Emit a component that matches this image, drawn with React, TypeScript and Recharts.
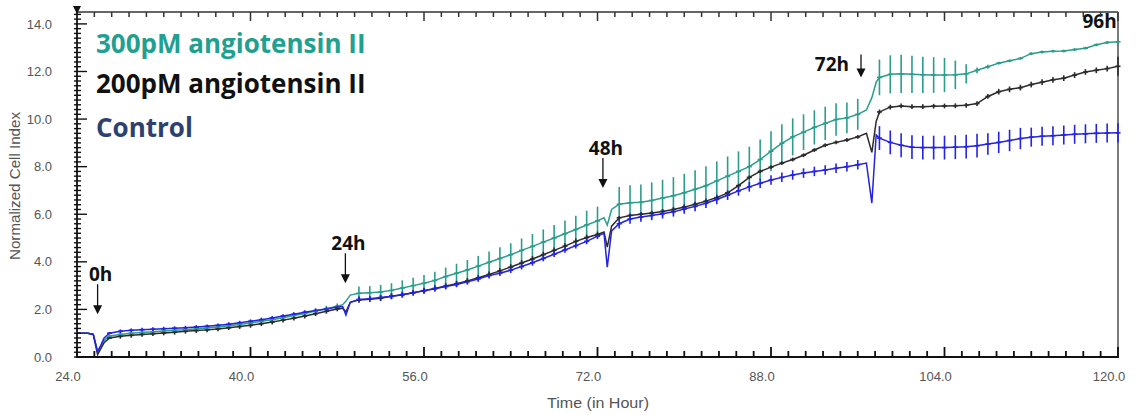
import React from "react"
import { LineChart, Line, XAxis, YAxis, ErrorBar, ReferenceDot, ReferenceLine } from "recharts"

// time in hours (xCELLigence run time), hourly readings plus the treatment dips
const TIME = [
    24, 25, 25.5, 25.9, 26.5, 27, 28, 29, 30, 31, 32, 33, 34, 35, 36, 37, 38, 39, 40, 41, 42, 43, 44, 45, 46, 47, 48,
    48.5, 48.8, 49.2, 50, 51, 52, 53, 54, 55, 56, 57, 58, 59, 60, 61, 62, 63, 64, 65, 66, 67, 68, 69, 70, 71, 72,
    72.6, 72.9, 73.3, 74, 75, 76, 77, 78, 79, 80, 81, 82, 83, 84, 85, 86, 87, 88, 89, 90, 91, 92, 93, 94, 95, 96,
    96.8, 97.3, 97.7, 98, 99, 100, 101, 102, 103, 104, 105, 106, 107, 108, 109, 110, 111, 112, 113, 114, 115, 116, 117, 118, 119, 120,
]

const CONTROL = [
    1.0, 1.0, 0.95, 0.2, 0.8, 1.0, 1.08, 1.12, 1.15, 1.17, 1.19, 1.21, 1.23, 1.26, 1.29, 1.33, 1.38, 1.44, 1.5, 1.57, 1.64, 1.72, 1.8, 1.88, 1.95, 2.02, 2.1,
    2.12, 1.76, 2.3, 2.42, 2.45, 2.5, 2.55, 2.62, 2.7, 2.78, 2.87, 2.96, 3.05, 3.16, 3.28, 3.42, 3.52, 3.65, 3.8, 3.96, 4.14, 4.32, 4.5, 4.68, 4.86, 5.08,
    5.2, 3.78, 5.3, 5.6, 5.8, 5.88, 5.95, 6.02, 6.1, 6.22, 6.33, 6.46, 6.62, 6.8, 6.98, 7.15, 7.3, 7.44, 7.55, 7.65, 7.73, 7.8, 7.86, 7.93, 8.0, 8.08,
    8.15, 6.47, 9.33, 9.2, 9.02, 8.9, 8.82, 8.8, 8.8, 8.8, 8.82, 8.84, 8.88, 8.95, 9.02, 9.1, 9.18, 9.24, 9.28, 9.3, 9.33, 9.36, 9.38, 9.4, 9.41, 9.42,
]
const CONTROL_ERR = [
    0, 0, 0, 0, 0, 0.05, 0.08, 0.08, 0.08, 0.08, 0.08, 0.08, 0.08, 0.08, 0.08, 0.08, 0.08, 0.08, 0.08, 0.08, 0.08, 0.08, 0.08, 0.08, 0.08, 0.08, 0.08,
    0, 0, 0, 0.12, 0.12, 0.12, 0.12, 0.12, 0.12, 0.12, 0.12, 0.12, 0.12, 0.12, 0.12, 0.12, 0.12, 0.12, 0.12, 0.12, 0.12, 0.12, 0.12, 0.12, 0.12, 0.12,
    0, 0, 0, 0.2, 0.2, 0.2, 0.2, 0.2, 0.2, 0.2, 0.2, 0.2, 0.2, 0.2, 0.2, 0.2, 0.2, 0.2, 0.2, 0.2, 0.2, 0.2, 0.2, 0.2, 0.2, 0.2,
    0, 0, 0, 0.5, 0.5, 0.5, 0.5, 0.5, 0.5, 0.5, 0.5, 0.5, 0.5, 0.45, 0.45, 0.45, 0.45, 0.4, 0.4, 0.4, 0.4, 0.4, 0.4, 0.4, 0.4, 0.4,
]

const ANG200 = [
    1.0, 1.0, 0.95, 0.1, 0.6, 0.8, 0.87, 0.91, 0.95, 0.98, 1.01, 1.04, 1.08, 1.11, 1.14, 1.18, 1.23, 1.28, 1.33, 1.4, 1.47, 1.55, 1.63, 1.72, 1.82, 1.92, 2.02,
    2.05, 1.9, 2.3, 2.4, 2.43, 2.47, 2.55, 2.62, 2.7, 2.79, 2.88, 2.98, 3.08, 3.2, 3.33, 3.47, 3.62, 3.78, 3.95, 4.12, 4.3, 4.48, 4.66, 4.86, 5.02, 5.15,
    5.25, 4.62, 5.5, 5.85, 5.95, 6.0, 6.05, 6.12, 6.2, 6.3, 6.42, 6.55, 6.7, 6.9, 7.2, 7.55, 7.8, 7.98, 8.15, 8.3, 8.48, 8.7, 8.9, 9.02, 9.12, 9.25,
    9.4, 8.6, 9.9, 10.3, 10.5, 10.55, 10.52, 10.52, 10.54, 10.55, 10.56, 10.58, 10.65, 10.95, 11.15, 11.25, 11.32, 11.45, 11.55, 11.65, 11.72, 11.85, 11.98, 12.05, 12.12, 12.22,
]
const ANG200_ERR = [
    0, 0, 0, 0, 0, 0.05, 0.1, 0.1, 0.1, 0.1, 0.1, 0.1, 0.1, 0.1, 0.1, 0.1, 0.1, 0.1, 0.1, 0.1, 0.1, 0.1, 0.1, 0.1, 0.1, 0.1, 0.1,
    0, 0, 0, 0.12, 0.12, 0.12, 0.12, 0.12, 0.12, 0.12, 0.12, 0.12, 0.12, 0.12, 0.12, 0.12, 0.12, 0.12, 0.12, 0.12, 0.12, 0.12, 0.12, 0.12, 0.12, 0.12,
    0, 0, 0, 0.08, 0.08, 0.08, 0.08, 0.08, 0.08, 0.08, 0.08, 0.08, 0.08, 0.08, 0.08, 0.08, 0.08, 0.08, 0.08, 0.08, 0.08, 0.08, 0.08, 0.08, 0.08, 0.08,
    0, 0, 0, 0.1, 0.1, 0.1, 0.1, 0.1, 0.1, 0.1, 0.1, 0.1, 0.1, 0.1, 0.12, 0.12, 0.12, 0.12, 0.12, 0.12, 0.12, 0.12, 0.12, 0.12, 0.12, 0.4,
]

const ANG300 = [
    1.0, 1.0, 0.95, 0.25, 0.7, 0.88, 0.95, 1.0, 1.03, 1.06, 1.09, 1.12, 1.15, 1.19, 1.22, 1.26, 1.31, 1.37, 1.43, 1.5, 1.57, 1.65, 1.74, 1.83, 1.93, 2.03, 2.13,
    2.2, 2.35, 2.6, 2.68, 2.7, 2.73, 2.8, 2.9, 3.0, 3.1, 3.22, 3.38, 3.52, 3.66, 3.82, 3.98, 4.14, 4.3, 4.48, 4.65, 4.83, 5.0, 5.18, 5.36, 5.55, 5.72,
    5.85, 5.55, 6.2, 6.42, 6.48, 6.5, 6.58, 6.68, 6.78, 6.9, 7.05, 7.2, 7.4, 7.6, 7.8, 8.0, 8.3, 8.65, 8.98, 9.25, 9.45, 9.65, 9.82, 9.98, 10.05, 10.2,
    10.38, 10.9, 11.55, 11.75, 11.88, 11.9, 11.88, 11.86, 11.85, 11.85, 11.86, 11.9, 12.05, 12.2, 12.35, 12.45, 12.55, 12.75, 12.82, 12.85, 12.86, 12.92, 12.98, 13.12, 13.22, 13.25,
]
const ANG300_ERR = [
    0, 0, 0, 0, 0, 0.05, 0.08, 0.08, 0.08, 0.08, 0.08, 0.08, 0.08, 0.08, 0.08, 0.08, 0.08, 0.08, 0.08, 0.12, 0.12, 0.12, 0.12, 0.12, 0.12, 0.12, 0.12,
    0, 0, 0, 0.28, 0.28, 0.3, 0.3, 0.32, 0.33, 0.35, 0.36, 0.38, 0.4, 0.42, 0.43, 0.45, 0.47, 0.48, 0.5, 0.52, 0.53, 0.55, 0.56, 0.58, 0.6, 0.6,
    0, 0, 0, 0.72, 0.74, 0.75, 0.76, 0.77, 0.78, 0.8, 0.8, 0.82, 0.82, 0.83, 0.84, 0.84, 0.84, 0.84, 0.8, 0.78, 0.75, 0.72, 0.7, 0.68, 0.65, 0.65,
    0, 0, 0, 0.75, 0.8, 0.8, 0.78, 0.76, 0.75, 0.72, 0.6, 0.4, 0.12, 0.08, 0.06, 0.06, 0.06, 0.06, 0.06, 0.06, 0.06, 0.06, 0.06, 0.06, 0.06, 0.06,
]

const X_TICKS = [24, 40, 56, 72, 88, 104, 120]
const Y_TICKS = [0, 2, 4, 6, 8, 10, 12, 14]

// treatment marks: label, time, cell index at arrow tip
const MARK_LABELS = ["0h", "24h", "48h", "72h", "96h"]
const MARK_TIME = [25.9, 48.75, 72.5, 96.3, 118.3]
const MARK_VALUE = [1.8, 3.1, 7.1, 11.75, 14.1]

// minor ticks: 10 per major step
const X_MINOR = Array.from({ length: 61 }, (_, i) => Math.round((24 + i * 1.6) * 10) / 10)
const Y_MINOR = Array.from({ length: 73 }, (_, i) => Math.round(i * 2) / 10)

const X_MIN = 24
const X_MAX = 120
const Y_MAX = 14.5

// chart box (margins + axis sizes below) -> plot area, used for the tick comb only
const W = 1138
const H = 415
const MARGIN = { top: 12, right: 20, bottom: 0, left: 0 }
const Y_AXIS_W = 77
const X_AXIS_H = 58
const PLOT = {
    left: MARGIN.left + Y_AXIS_W,
    right: W - MARGIN.right,
    top: MARGIN.top,
    bottom: H - MARGIN.bottom - X_AXIS_H,
}
const sx = (t: number) => PLOT.left + ((t - X_MIN) / (X_MAX - X_MIN)) * (PLOT.right - PLOT.left)
const sy = (v: number) => PLOT.bottom - (v / Y_MAX) * (PLOT.bottom - PLOT.top)

const COLORS = {
    ang300: "#2a9d8c",
    ang200: "#2b2b2b",
    control: "#2323e0",
}

const data = TIME.map((t, i) => ({
    t,
    control: CONTROL[i],
    controlErr: CONTROL_ERR[i],
    ang200: ANG200[i],
    ang200Err: ANG200_ERR[i],
    ang300: ANG300[i],
    ang300Err: ANG300_ERR[i],
}))

const tickFont = { fill: "#555", fontSize: 13, fontFamily: "'Liberation Sans', Arial, sans-serif" }
const boldFont = "'Open Sans', Lato, sans-serif"

// small horizontal tick at every reading that has an error bar
const makeDot = (errKey: string, color: string) => (p: any) => {
    const { cx, cy, payload, index } = p
    if (!payload || !payload[errKey]) return <g key={`d${index}`} />
    return <line key={`d${index}`} x1={cx - 2.5} x2={cx + 2.5} y1={cy} y2={cy} stroke={color} strokeWidth={1.6} />
}

const Callout = (p: any) => {
    const { cx, cy, label } = p
    const font = { fontFamily: boldFont, fontWeight: 700, fontSize: 19, fill: "#111" }
    if (label === "96h") {
        return <text x={cx} y={cy + 6} textAnchor="middle" {...font}>{label}</text>
    }
    const side = label === "72h"
    const len = side ? 23 : 30
    return (
        <g>
            <line x1={cx} x2={cx} y1={cy - len} y2={cy - 6} stroke="#111" strokeWidth={1.3} />
            <polygon points={`${cx - 4.5},${cy - 9} ${cx + 4.5},${cy - 9} ${cx},${cy}`} fill="#111" />
            {side
                ? <text x={cx - 12} y={cy - 6} textAnchor="end" {...font}>{label}</text>
                : <text x={cx + 3} y={cy - len - 3} textAnchor="middle" {...font}>{label}</text>}
        </g>
    )
}

export default function App() {
    return (
        <div style={{ position: "absolute", left: 0, top: 0, width: W, height: H, background: "#fff" }}>
            <LineChart width={W} height={H} data={data} margin={MARGIN}>
                <XAxis
                    xAxisId="t"
                    dataKey="t"
                    type="number"
                    domain={[X_MIN, X_MAX]}
                    ticks={X_TICKS}
                    interval={0}
                    tickFormatter={(v: number) => v.toFixed(1)}
                    tickLine={false}
                    tickSize={6}
                    tickMargin={9}
                    height={X_AXIS_H}
                    axisLine={{ stroke: "#111", strokeWidth: 1.8 }}
                    tick={{ ...tickFont, dx: -9 }}
                />
                <YAxis
                    yAxisId="v"
                    type="number"
                    domain={[0, Y_MAX]}
                    ticks={Y_TICKS}
                    interval={0}
                    tickFormatter={(v: number) => v.toFixed(1)}
                    tickLine={false}
                    tickSize={6}
                    tickMargin={19}
                    width={Y_AXIS_W}
                    axisLine={{ stroke: "#111", strokeWidth: 1.8 }}
                    tick={tickFont}
                />

                {/* frame: top and right edges */}
                <ReferenceLine xAxisId="t" yAxisId="v" y={Y_MAX} stroke="#333" strokeWidth={1.3} ifOverflow="visible" />
                <ReferenceLine xAxisId="t" yAxisId="v" x={X_MAX} stroke="#7a7a7a" strokeWidth={2} ifOverflow="visible" />

                <Line xAxisId="t" yAxisId="v" type="linear" dataKey="ang300" stroke={COLORS.ang300} strokeWidth={1.5}
                    dot={makeDot("ang300Err", COLORS.ang300)} activeDot={false} isAnimationActive={false}>
                    <ErrorBar dataKey="ang300Err" direction="y" width={0} stroke={COLORS.ang300} strokeWidth={1.6} />
                </Line>
                <Line xAxisId="t" yAxisId="v" type="linear" dataKey="ang200" stroke={COLORS.ang200} strokeWidth={1.5}
                    dot={makeDot("ang200Err", COLORS.ang200)} activeDot={false} isAnimationActive={false}>
                    <ErrorBar dataKey="ang200Err" direction="y" width={0} stroke={COLORS.ang200} strokeWidth={1.6} />
                </Line>
                <Line xAxisId="t" yAxisId="v" type="linear" dataKey="control" stroke={COLORS.control} strokeWidth={1.5}
                    dot={makeDot("controlErr", COLORS.control)} activeDot={false} isAnimationActive={false}>
                    <ErrorBar dataKey="controlErr" direction="y" width={0} stroke={COLORS.control} strokeWidth={1.6} />
                </Line>

                {MARK_LABELS.map((label, i) => (
                    <ReferenceDot
                        key={label}
                        xAxisId="t"
                        yAxisId="v"
                        x={MARK_TIME[i]}
                        y={MARK_VALUE[i]}
                        ifOverflow="visible"
                        shape={(p: any) => <Callout {...p} label={label} />}
                    />
                ))}
            </LineChart>

            <svg width={W} height={H} style={{ position: "absolute", left: 0, top: 0, pointerEvents: "none" }}>
                {/* inward tick comb on bottom, top and left edges */}
                <g stroke="#111" strokeWidth={1.8}>
                    {X_MINOR.map((t) => {
                        const major = X_TICKS.includes(t)
                        return <line key={`b${t}`} x1={sx(t)} x2={sx(t)} y1={PLOT.bottom + 1} y2={PLOT.bottom - (major ? 10 : 6)} />
                    })}
                    {X_MINOR.map((t) => {
                        const major = X_TICKS.includes(t)
                        return <line key={`u${t}`} x1={sx(t)} x2={sx(t)} y1={PLOT.top} y2={PLOT.top + (major ? 9 : 5)} stroke="#333" strokeWidth={1.5} />
                    })}
                    {Y_MINOR.map((v) => {
                        const major = Y_TICKS.includes(v)
                        return <line key={`l${v}`} x1={PLOT.left - 3} x2={PLOT.left + (major ? 10 : 4)} y1={sy(v)} y2={sy(v)} strokeWidth={1.4} />
                    })}
                </g>
                <polygon points={`${PLOT.left - 4},6 ${PLOT.left + 4},6 ${PLOT.left},${PLOT.top + 2}`} fill="#111" />
                <g style={{ fontFamily: boldFont, fontWeight: 700, fontSize: 26 }}>
                    <text x={96} y={53} fill="#1fa090">300pM angiotensin II</text>
                    <text x={96} y={93} fill="#111">200pM angiotensin II</text>
                    <text x={96} y={137} fill="#2d4170">Control</text>
                </g>
                <text x={20} y={186} transform="rotate(-90 20 186)" textAnchor="middle"
                    textLength={148} lengthAdjust="spacingAndGlyphs" style={{ ...tickFont, fontSize: 14 }}>
                    Normalized Cell Index
                </text>
                <text x={598} y={408} textAnchor="middle" textLength={102} lengthAdjust="spacingAndGlyphs"
                    style={{ ...tickFont, fontSize: 15 }}>
                    Time (in Hour)
                </text>
            </svg>
        </div>
    )
}
